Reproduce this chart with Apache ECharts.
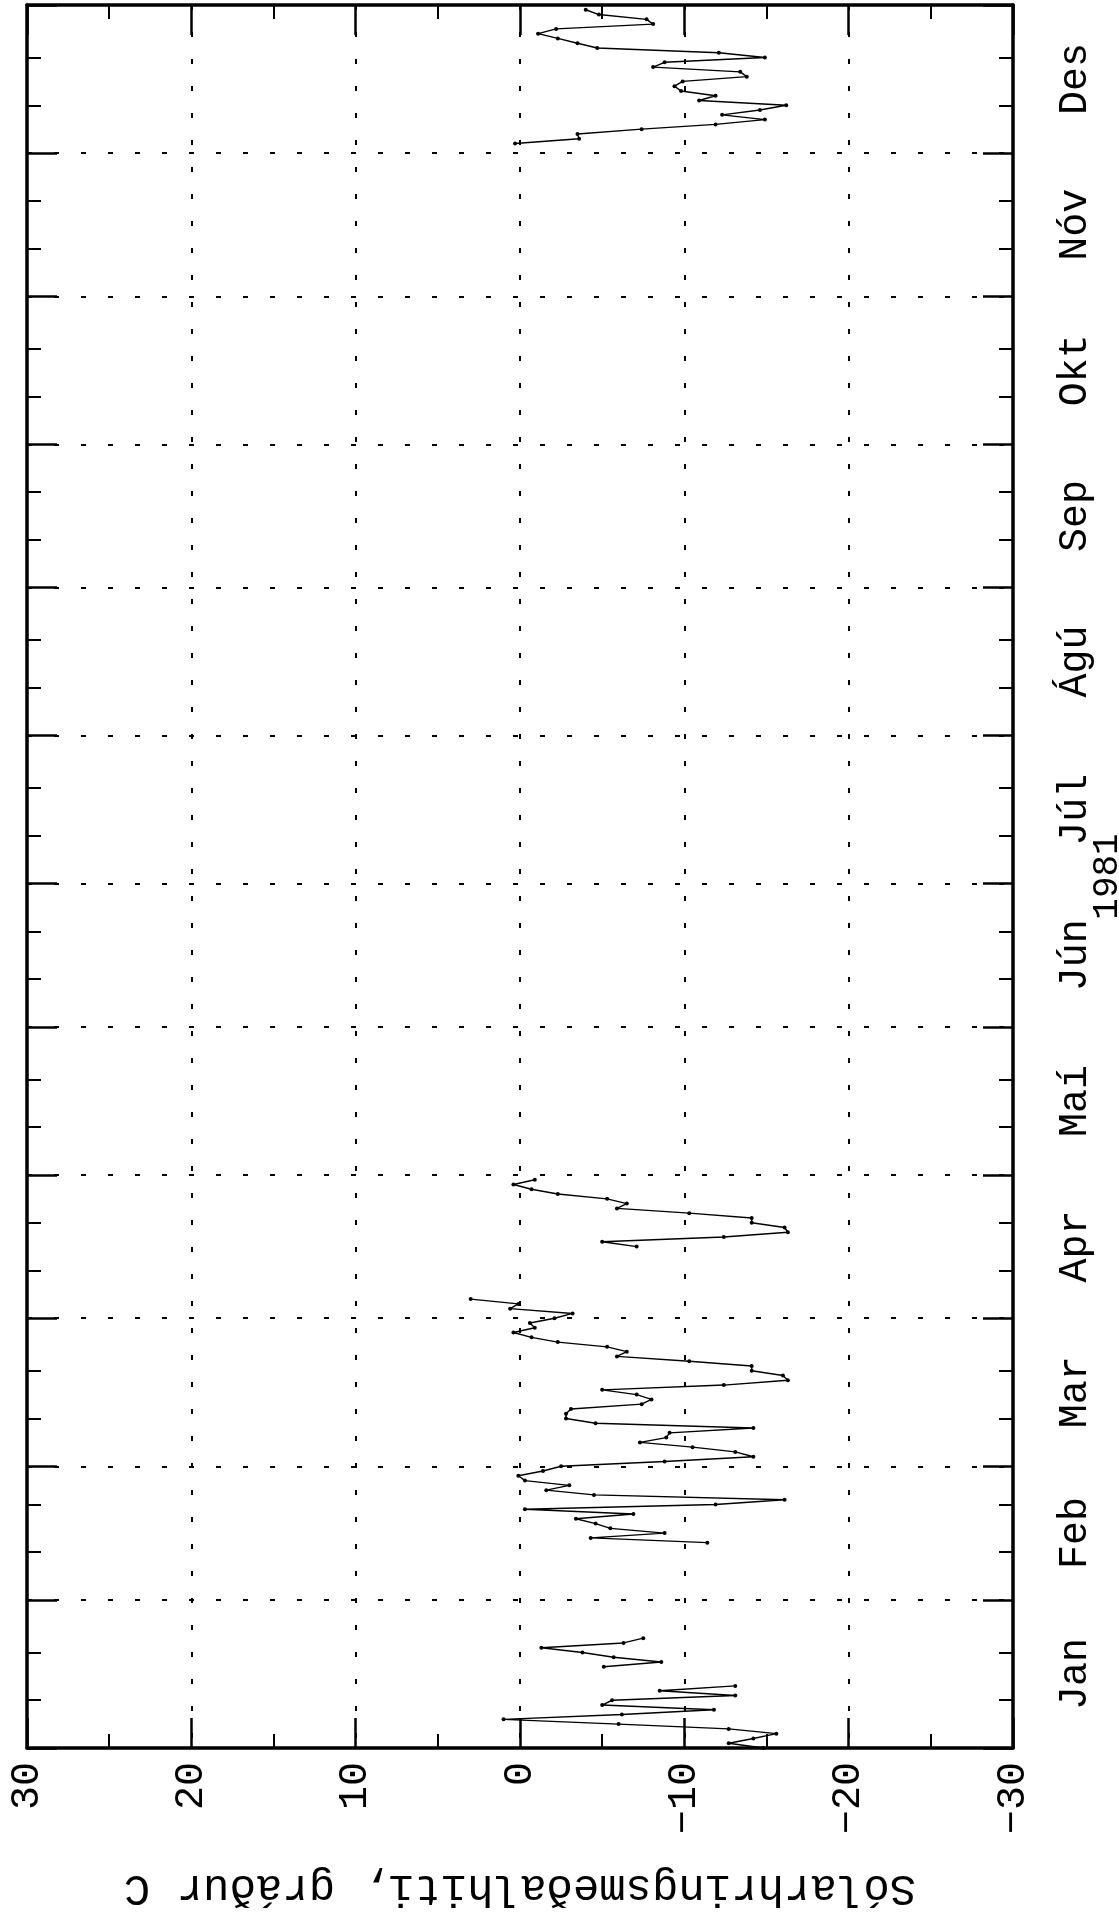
<!DOCTYPE html>
<html><head><meta charset="utf-8">
<script src="https://cdn.jsdelivr.net/npm/echarts@6/dist/echarts.min.js"></script>
<style>html,body{margin:0;padding:0;background:#fff}#c{width:1119px;height:1918px}</style>
</head><body><div id="c"></div>
<script>
// ---- data (daily mean temperature, 1981) ----
const monthNames = ['Jan','Feb','Mar','Apr','Maí','Jún','Júl','Ágú','Sep','Okt','Nóv','Des'];
const monthLengths = [31,28,31,30,31,30,31,31,30,31,30,31];
const tempTicks = [-30,-20,-10,0,10,20,30];
const tempMinorTicks = [-25,-15,-5,5,15,25];
const minorTickDaysOfMonth = [11,21];

// segment start dates [month, day]
const segStarts = [[1,1],[1,18],[2,13],[4,16],[12,3]];
const segJanA = [-14.8,-12.7,-14.2,-15.6,-12.7,-6.0,1.0,-6.2,-11.8,-5.0,-5.6,-13.1,-8.5,-13.1];
const segJanB = [-5.1,-8.6,-5.7,-3.8,-1.3,-6.3,-7.5];
const segFebApr = [-11.4,-4.3,-8.8,-5.5,-4.6,-3.4,-6.9,-0.3,-11.9,-16.1,-4.5,-1.6,-3.0,-0.3,0.1,-1.4,
  -2.5,-8.8,-14.2,-13.1,-10.5,-7.3,-8.9,-9.1,-14.2,-4.6,-2.8,-2.8,-3.1,-7.4,-8.0,-7.1,-5.0,-12.4,-16.3,-16.0,
  -14.1,-14.1,-10.3,-5.9,-6.5,-5.3,-2.3,-0.7,0.4,-0.9,-0.6,
  -2.1,-3.2,0.6,0.1,3.0];
const segAprB = [-7.1,-5.0,-12.4,-16.3,-16.1,-14.1,-14.1,-10.3,-5.9,-6.5,-5.3,-2.3,-0.7,0.4,-0.9];
const segDec = [0.3,-3.6,-3.5,-7.4,-11.9,-14.9,-12.3,-14.6,-16.2,-10.9,-11.9,-9.8,-9.4,-9.9,-13.8,-13.4,
  -8.1,-8.8,-14.9,-12.1,-4.7,-3.5,-2.3,-1.1,-2.2,-8.1,-7.7,-4.8,-4.0];
const segments = [segJanA, segJanB, segFebApr, segAprB, segDec];

// ---- derived day-of-year scale ----
const monthStarts = [0];
monthLengths.forEach(l => monthStarts.push(monthStarts[monthStarts.length-1] + l));
const monthMids = monthLengths.map((l,i) => monthStarts[i] + l/2);
const minorDays = [];
monthStarts.slice(0,12).forEach(s => minorTickDaysOfMonth.forEach(d => minorDays.push(s + d - 1)));
const dayIndex = (m,d) => monthStarts[m-1] + d - 1;

const FONT = 'Liberation Mono';
const BLACK = '#000';
const dotted = {color: BLACK, width: 2, type: [5,22]};
const frameLine = {show:true, onZero:false, lineStyle:{color:BLACK, width:3.5}};
const noLine = {show:false, onZero:false};
const majorTick = (extra) => Object.assign({show:true, inside:true, length:30, lineStyle:{color:BLACK, width:2.5}}, extra||{});
const minorTick = (vals) => ({show:true, inside:true, length:14, customValues:vals, lineStyle:{color:BLACK, width:2}});

const xBase = {type:'value', min:-30, max:30, inverse:true, nameMoveOverlap:false};
const yBase = {type:'value', min:0, max:365, nameMoveOverlap:false};

const series = segments.map((vals, si) => {
  const start = dayIndex(segStarts[si][0], segStarts[si][1]);
  return {
    type:'line', xAxisIndex:0, yAxisIndex:0,
    data: vals.map((v,i) => [v, start + i]),
    symbol:'circle', symbolSize:4, showSymbol:true,
    itemStyle:{color:BLACK}, lineStyle:{color:BLACK, width:1.4},
    animation:false, silent:true
  };
});

const chart = echarts.init(document.getElementById('c'), null, {renderer:'canvas'});
chart.setOption({
  backgroundColor:'#fff',
  animation:false,
  grid:{left:27, right:106, top:5, bottom:170, containLabel:false, outerBoundsMode:'none'},
  xAxis:[
    Object.assign({}, xBase, {
      position:'bottom', interval:10,
      axisLine:frameLine, axisTick:majorTick(),
      axisLabel:{show:true, rotate:90, margin:14, fontFamily:FONT, fontSize:40, color:BLACK,
        formatter:v => String(v).replace('-', '\u2212')},
      splitLine:{show:true, lineStyle:dotted},
      name:'Sólarhringsmeðalhiti, gráður C', nameLocation:'middle', nameGap:118, nameRotate:180,
      nameTextStyle:{fontFamily:FONT, fontSize:44, color:BLACK}
    }),
    Object.assign({}, xBase, {
      position:'top', interval:10,
      axisLine:frameLine, axisTick:majorTick(), axisLabel:{show:false}, splitLine:{show:false}
    }),
    Object.assign({}, xBase, {
      position:'bottom', axisLine:noLine, axisTick:minorTick(tempMinorTicks), axisLabel:{show:false}, splitLine:{show:false}
    }),
    Object.assign({}, xBase, {
      position:'top', axisLine:noLine, axisTick:minorTick(tempMinorTicks), axisLabel:{show:false}, splitLine:{show:false}
    })
  ],
  yAxis:[
    Object.assign({}, yBase, {
      position:'right',
      axisLine:frameLine, axisTick:majorTick({customValues:monthStarts}),
      axisLabel:{show:true, customValues:monthMids, rotate:90, margin:42, fontFamily:FONT, fontSize:40, color:BLACK,
        formatter:v => monthNames[monthMids.indexOf(v)] || ''},
      splitLine:{show:true, lineStyle:dotted},
      name:'1981', nameLocation:'middle', nameGap:76, nameRotate:90,
      nameTextStyle:{fontFamily:FONT, fontSize:36, color:BLACK}
    }),
    Object.assign({}, yBase, {
      position:'right', axisLine:noLine, axisTick:minorTick(minorDays), axisLabel:{show:false}, splitLine:{show:false}
    }),
    Object.assign({}, yBase, {
      position:'left', axisLine:frameLine, axisTick:majorTick({customValues:monthStarts}), axisLabel:{show:false}, splitLine:{show:false}
    }),
    Object.assign({}, yBase, {
      position:'left', axisLine:noLine, axisTick:minorTick(minorDays), axisLabel:{show:false}, splitLine:{show:false}
    })
  ],
  series: series
});
</script></body></html>
